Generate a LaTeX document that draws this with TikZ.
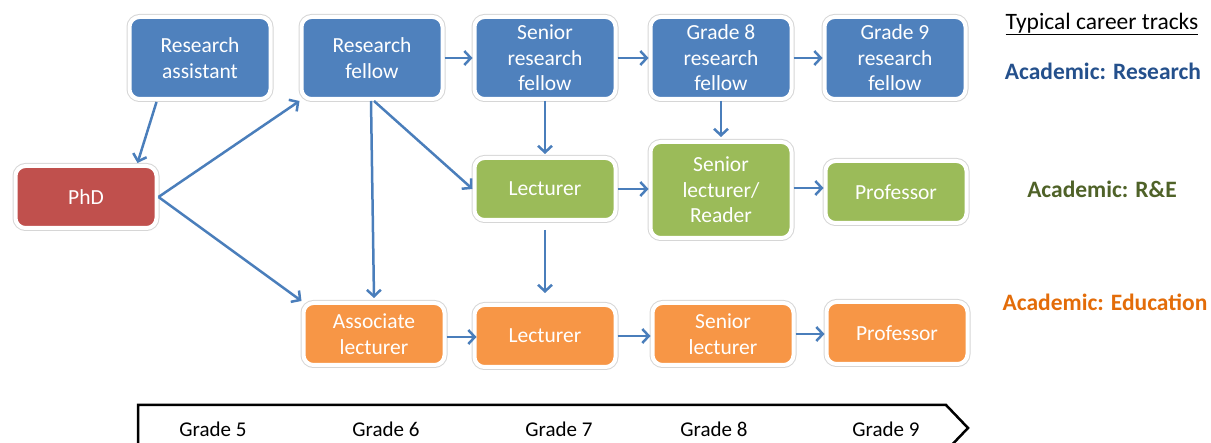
\documentclass[tikz,border=0pt]{standalone}
\usepackage{fontspec}
\setmainfont{Carlito}
\usetikzlibrary{arrows.meta,calc,shadows}
\definecolor{rblue}{HTML}{4F81BD}
\definecolor{rgreen}{HTML}{9BBB59}
\definecolor{rred}{HTML}{C0504D}
\definecolor{rorange}{HTML}{F79646}
\definecolor{arrowblue}{HTML}{4A7EBB}
\definecolor{legblue}{RGB}{36,80,140}
\definecolor{leggreen}{HTML}{4F6228}
\definecolor{legorange}{HTML}{E36C09}
\tikzset{
  box/.style={draw=white, line width=4pt, rounded corners=10pt, text=white,
    align=center, minimum width=141pt, inner sep=2pt,
    font=\fontsize{21.5}{25.5}\selectfont,
    drop shadow={shadow xshift=1pt, shadow yshift=-1.8pt, opacity=0.25, fill=black},
    preaction={draw=black!16, line width=6pt}},
  tall/.style={box, minimum height=82pt},
  short/.style={box, minimum height=62pt},
  conn/.style={draw=arrowblue, line width=2.5pt,
    -{Straight Barb[length=6.5pt,width=14pt,line width=2.5pt]}},
  leg/.style={font=\fontsize{23.5}{27}\selectfont\bfseries},
  grade/.style={font=\fontsize{21}{25}\selectfont}
}
\begin{document}
\begin{tikzpicture}[x=1pt,y=-1pt]
\useasboundingbox (0,0) rectangle (1211,443);
% top row: research
\node[tall, fill=rblue] (ra)  at (200,58) {Research\\assistant};
\node[tall, fill=rblue] (rf)  at (372,58) {Research\\fellow};
\node[tall, fill=rblue] (srf) at (545,58) {Senior\\research\\fellow};
\node[tall, fill=rblue] (g8)  at (721,58) {Grade 8\\research\\fellow};
\node[tall, fill=rblue] (g9)  at (895,58) {Grade 9\\research\\fellow};
% PhD
\node[short, fill=rred] (phd) at (86,197) {PhD};
% middle row: R&E
\node[short, fill=rgreen] (lg)  at (545,189) {Lecturer};
\node[box, fill=rgreen, minimum height=96pt] (slr) at (721,190) {Senior\\lecturer/\\Reader};
\node[short, fill=rgreen] (pg)  at (896,192) {Professor};
% bottom row: education
\node[short, fill=rorange] (al)  at (374,334) {Associate\\lecturer};
\node[short, fill=rorange] (lo)  at (545,336) {Lecturer};
\node[short, fill=rorange] (slo) at (723,334) {Senior\\lecturer};
\node[short, fill=rorange] (po)  at (897,333) {Professor};
% connectors
\draw[conn] ($(ra.south west)+(29,1)$) -- ($(phd.north east)+(-21,-1)$);
\draw[conn] (phd.east) -- (rf.south west);
\draw[conn] (phd.east) -- (al.north west);
\draw[conn] ($(rf.south)+(-1,0)$) -- ($(al.north)+(0,-3)$);
\draw[conn] ($(rf.south)+(2,0)$) -- (lg.west);
\draw[conn] (rf.east) -- (srf.west);
\draw[conn] (srf.east) -- (g8.west);
\draw[conn] (g8.east) -- (g9.west);
\draw[conn] (srf.south) -- ($(lg.north)+(0,-2)$);
\draw[conn] (g8.south) -- ($(slr.north)+(0,-3)$);
\draw[conn] (lg.east) -- (lg.east -| slr.west);
\draw[conn] ($(slr.east)+(0,-2)$) -- ($(slr.east -| pg.west)+(0,-2)$);
\draw[conn, shorten <=8pt, shorten >=10pt] (lg.south) -- (lo.north);
\draw[conn] ($(al.east)+(0,3)$) -- ($(al.east -| lo.west)+(4,3)$);
\draw[conn] (lo.east) -- (lo.east -| slo.west);
\draw[conn] (slo.east) -- (slo.east -| po.west);
% legend
\node[font=\fontsize{23.5}{27}\selectfont, anchor=center] (lt) at (1102,24) {\underline{Typical career tracks}};
\node[leg, text=legblue] (lr) at (1103,71) {Academic: Research};
\node[leg, text=leggreen] (le) at (1102,189) {Academic: R\&E};
\node[leg, text=legorange] (led) at (1105,302) {Academic: Education};
% grade bar
\begin{scope}
\clip (0,0) rectangle (1211,443);
\draw[line width=2.5pt, line join=miter] (138,450) -- (138,405) -- (946,405) -- (968,428) -- (946,451);
\end{scope}
\node[grade] (gr5) at (213,429) {Grade 5};
\node[grade] (gr6) at (386,429) {Grade 6};
\node[grade] (gr7) at (559,429) {Grade 7};
\node[grade] (gr8) at (714,429) {Grade 8};
\node[grade] (gr9) at (886,429) {Grade 9};
\end{tikzpicture}
\end{document}
